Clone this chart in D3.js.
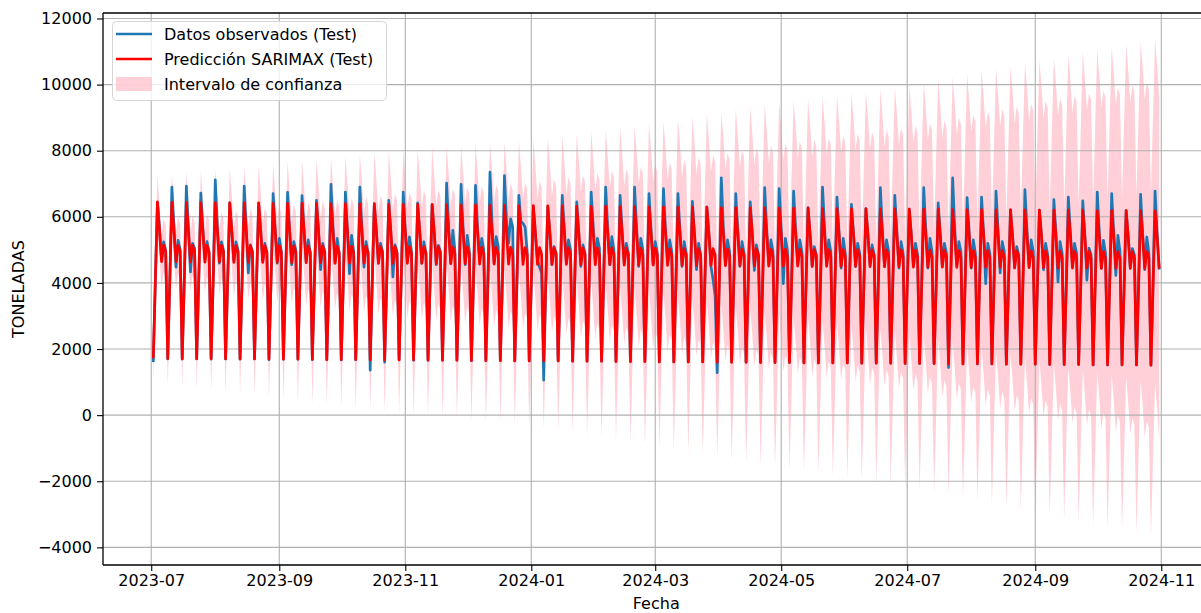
<!DOCTYPE html>
<html><head><meta charset="utf-8">
<script src="https://cdn.jsdelivr.net/npm/d3@7"></script>
<style>body{margin:0;background:#fff}svg{display:block;font-family:"DejaVu Sans",sans-serif}</style>
</head><body><svg id="c" width="1201" height="613"></svg>
<script>
// ---- data (daily, one row per week Sun..Sat, starting Sunday 2023-07-02) ----
const startDate = "2023-07-02";
const observedWeeks = [
[1610,4050,6430,5650,4700,5240,4980],[1700,4120,6900,5700,4480,5290,5000],[1690,4100,6930,5650,4330,5200,5050],
[1700,4080,6720,5600,4700,5250,4900],[1690,4090,7120,5750,4600,5240,4980],[1700,4050,6420,5550,4680,5240,5000],
[1690,4100,6930,5620,4300,5150,4950],[1700,4040,6400,5580,4650,5200,4900],[1680,4100,6700,5650,4600,5350,4950],
[1690,4080,6740,5600,4550,5250,5000],[1690,4060,6640,5600,4650,5300,4900],[1680,4040,6500,5580,4400,5200,4950],
[1680,4100,6980,5700,4600,5350,4900],[1670,4080,6750,5600,4280,5440,4950],[1680,4100,6900,5650,4480,5250,4900],
[1360,4000,6400,5550,4600,5200,4950],[1600,4050,6500,5550,4180,5150,4900],[1670,4080,6750,5600,4650,5390,4950],
[1660,4030,6420,5560,4600,5240,4900],[1660,4020,6380,5550,4550,5140,4950],[1660,4100,7020,5700,4600,5590,5000],
[1660,4090,6980,5650,4550,5440,4950],[1650,4080,6950,5650,4700,5350,5000],[1650,4150,7350,5800,4600,5400,5100],
[1650,4150,7250,5900,5200,5940,5700],[1640,3900,6650,5850,5800,5690,4950],[1640,3950,6300,5450,4700,4480,4300],
[1060,3900,6300,5500,4550,5100,4900],[1640,4000,6650,5600,4600,5300,5000],[1630,3980,6450,5520,4500,5150,4900],
[1630,4050,6750,5700,4650,5350,5050],[1630,4080,6900,5650,4550,5400,5000],[1620,4000,6650,5550,4600,5200,4900],
[1620,4080,6900,5650,4500,5350,5000],[1620,4000,6700,5600,4550,5250,4900],[1610,4050,6850,5600,4600,5300,4950],
[1610,4000,6700,5550,4500,5250,4900],[1610,3950,6470,5500,4400,5200,4850],[1610,3950,6300,5480,4500,4100,3600],
[1280,4000,7180,5650,4550,5300,4950],[1600,4000,6700,5550,4500,5250,4900],[1600,3950,6450,5500,4380,5150,4850],
[1590,4050,6880,5600,4550,5300,4950],[1590,4050,6850,5650,3980,5350,5000],[1590,4050,6780,5600,4550,5300,4950],
[1580,3920,6280,5450,4500,5100,4850],[1580,4050,6900,5650,4550,5300,4950],[1580,4000,6600,5550,4450,5350,4900],
[1580,3950,6380,5500,4500,5200,4900],[1570,3910,6250,5450,4550,5150,4850],[1570,4050,6880,5600,4500,5300,4950],
[1570,4000,6650,5550,4450,5250,4900],[1560,3900,6230,5450,4500,5200,4850],[1560,4050,6880,5600,4450,5350,4950],
[1560,3950,6420,5480,4500,5200,4900],[1440,4100,7180,5650,4550,5250,4950],[1550,3950,6580,5550,4450,5300,4900],
[1550,4000,6600,5500,3980,5200,4900],[1550,4000,6780,5600,4300,5250,4950],[1540,3880,6210,5420,4450,5100,4850],
[1540,4050,6820,5600,4500,5300,4950],[1540,3870,6200,5450,4400,5200,4850],[1530,3980,6520,5500,4030,5250,4900],
[1530,4000,6600,5550,4500,5200,4900],[1530,3950,6480,5450,4080,5050,4850],[1520,4000,6750,5550,4450,5290,4900],
[1520,4000,6700,5500,4230,5440,4950],[1520,3850,6190,5400,4450,5040,4850],[1520,3950,6680,5500,4400,5390,4900],
[1510,4000,6780,5500,4400]
];
const predictedWeeks = [
[1720,4080,6450,5600,4640,5150,4950],[1710,4070,6440,5590,4640,5140,4950],[1710,4070,6440,5590,4630,5140,4940],
[1710,4070,6430,5590,4630,5140,4940],[1710,4060,6430,5590,4630,5140,4940],[1700,4060,6420,5580,4620,5130,4930],
[1700,4060,6420,5580,4620,5130,4930],[1700,4050,6420,5580,4620,5130,4930],[1700,4050,6410,5580,4620,5130,4930],
[1690,4050,6410,5570,4610,5120,4920],[1690,4040,6410,5570,4610,5120,4920],[1690,4040,6400,5570,4610,5120,4920],
[1680,4040,6400,5560,4600,5110,4910],[1680,4030,6400,5560,4600,5110,4910],[1680,4030,6390,5560,4600,5110,4910],
[1670,4030,6390,5550,4590,5100,4900],[1670,4020,6380,5550,4590,5100,4900],[1670,4020,6380,5550,4590,5100,4900],
[1670,4020,6380,5550,4590,5100,4900],[1660,4010,6370,5540,4580,5090,4890],[1660,4010,6370,5540,4580,5090,4890],
[1660,4010,6360,5540,4580,5090,4890],[1650,4000,6360,5530,4570,5080,4880],[1650,4000,6350,5530,4570,5080,4880],
[1650,4000,6350,5530,4570,5080,4880],[1640,3990,6340,5520,4560,5070,4870],[1640,3990,6340,5520,4560,5070,4870],
[1640,3990,6330,5520,4560,5070,4870],[1640,3980,6330,5520,4560,5070,4870],[1630,3980,6320,5510,4550,5060,4860],
[1630,3980,6320,5510,4550,5060,4860],[1630,3970,6320,5510,4550,5060,4860],[1620,3970,6310,5500,4540,5050,4850],
[1620,3970,6310,5500,4540,5050,4850],[1620,3960,6300,5500,4540,5050,4850],[1610,3960,6300,5490,4530,5040,4840],
[1610,3960,6290,5490,4530,5040,4840],[1610,3950,6290,5490,4530,5040,4840],[1610,3950,6290,5490,4530,5040,4840],
[1600,3950,6280,5480,4520,5030,4830],[1600,3940,6280,5480,4520,5030,4830],[1600,3940,6270,5480,4520,5030,4830],
[1590,3940,6270,5470,4510,5020,4820],[1590,3930,6260,5470,4510,5020,4820],[1590,3930,6260,5470,4510,5020,4820],
[1580,3930,6260,5460,4500,5010,4810],[1580,3920,6250,5460,4500,5010,4810],[1580,3920,6250,5460,4500,5010,4810],
[1580,3920,6250,5460,4500,5010,4810],[1570,3910,6240,5450,4490,5000,4800],[1570,3910,6240,5450,4490,5000,4800],
[1570,3910,6240,5450,4490,5000,4800],[1560,3900,6230,5440,4480,4990,4790],[1560,3900,6230,5440,4480,4990,4790],
[1560,3900,6230,5440,4480,4990,4790],[1550,3890,6220,5430,4470,4980,4780],[1550,3890,6220,5430,4470,4980,4780],
[1550,3890,6220,5430,4470,4980,4780],[1550,3880,6210,5430,4470,4980,4780],[1540,3880,6210,5420,4460,4970,4770],
[1540,3880,6210,5420,4460,4970,4770],[1540,3870,6200,5420,4460,4970,4770],[1530,3870,6200,5410,4450,4960,4760],
[1530,3870,6200,5410,4450,4960,4760],[1530,3860,6200,5410,4450,4960,4760],[1520,3860,6190,5400,4440,4950,4750],
[1520,3860,6190,5400,4440,4950,4750],[1520,3850,6190,5400,4440,4950,4750],[1520,3850,6190,5400,4440,4950,4750],
[1510,3850,6180,5390,4430]
];
// confidence-interval half width per week
const ciHalfWidth = [
800,850,900,950,1000,1050,1100,1150,1200,1250,
1300,1350,1400,1450,1500,1550,1600,1650,1690,1730,
1770,1810,1850,1890,1930,1970,2010,2070,2130,2200,
2260,2330,2400,2460,2530,2600,2680,2750,2830,2900,
2980,3050,3130,3200,3260,3320,3380,3440,3500,3560,
3630,3690,3750,3840,3930,4010,4100,4190,4280,4360,
4450,4530,4620,4700,4780,4870,4950,5030,5120,5200
];
const yTicks = [-4000,-2000,0,2000,4000,6000,8000,10000,12000];
const xTickLabels = ["2023-07","2023-09","2023-11","2024-01","2024-03","2024-05","2024-07","2024-09","2024-11"];
const legendLabels = ["Datos observados (Test)","Predicción SARIMAX (Test)","Intervalo de confianza"];
const yLabel = "TONELADAS", xLabel = "Fecha";

// ---- build table ----
const parseDay = d3.utcParse("%Y-%m-%d");
const d0 = parseDay(startDate);
const rows = [];
observedWeeks.forEach((wk, k) => wk.forEach((v, j) => {
  const p = predictedWeeks[k][j], h = ciHalfWidth[k];
  rows.push({date: d3.utcDay.offset(d0, k*7+j), obs: v, pred: p, lo: p - h, hi: p + h});
}));

const svg = d3.select("#c");
const L = 103, R = 1209.5, T = 13, B = 565;
const first = rows[0].date, last = rows[rows.length-1].date;
const span = last - first, pad = span*0.05;
const x = d3.scaleUtc().domain([new Date(+first - pad), new Date(+last + pad)]).range([L, R]);
const y = d3.scaleLinear().domain([-4534, 12166]).range([B, T]);
const pink = "#ffc0cb", pinkOpacity = 0.75;

// band
svg.append("path").datum(rows)
  .attr("d", d3.area().x(d => x(d.date)).y0(d => y(d.lo)).y1(d => y(d.hi)))
  .attr("fill", pink).attr("fill-opacity", pinkOpacity);

// grid
const xt = xTickLabels.map(s => d3.utcParse("%Y-%m")(s));
const g = svg.append("g").attr("stroke", "#b0b0b0").attr("stroke-width", 1.1);
xt.forEach(t => g.append("line").attr("x1", x(t)).attr("x2", x(t)).attr("y1", T).attr("y2", B));
yTicks.forEach(t => g.append("line").attr("x1", L).attr("x2", R).attr("y1", y(t)).attr("y2", y(t)));

// lines
svg.append("path").datum(rows)
  .attr("d", d3.line().x(d => x(d.date)).y(d => y(d.obs)))
  .attr("fill", "none").attr("stroke", "#1f77b4").attr("stroke-width", 2.7).attr("stroke-linejoin", "round");
svg.append("path").datum(rows)
  .attr("d", d3.line().x(d => x(d.date)).y(d => y(d.pred)))
  .attr("fill", "none").attr("stroke", "#ff0000").attr("stroke-width", 2.7).attr("stroke-linejoin", "round");

// axes
const ax = svg.append("g").attr("transform", `translate(0,${B})`)
  .call(d3.axisBottom(x).tickValues(xt).tickFormat(d3.utcFormat("%Y-%m")).tickSize(6).tickPadding(4));
const ay = svg.append("g").attr("transform", `translate(${L},0)`)
  .call(d3.axisLeft(y).tickValues(yTicks).tickFormat(d3.format("d")).tickSize(6).tickPadding(5));
[ax, ay].forEach(a => {
  a.select(".domain").remove();
  a.selectAll("line").attr("stroke", "#000").attr("stroke-width", 1.1);
  a.selectAll("text").attr("font-size", 16).attr("fill", "#000").attr("font-family", "DejaVu Sans");
});
ay.selectAll("text").text(d => d < 0 ? "\u2212" + Math.abs(d) : String(d));

// spines
const sp = svg.append("g").attr("stroke", "#000").attr("stroke-width", 1.3);
sp.append("line").attr("x1", L).attr("x2", L).attr("y1", T).attr("y2", B);
sp.append("line").attr("x1", L).attr("x2", 1201).attr("y1", B).attr("y2", B);
sp.append("line").attr("x1", L).attr("x2", 1201).attr("y1", T).attr("y2", T);

// labels
svg.append("text").attr("x", (L + R)/2).attr("y", 609).attr("text-anchor", "middle")
  .attr("font-size", 16).text(xLabel);
svg.append("text").attr("transform", `translate(24,${(T+B)/2}) rotate(-90)`).attr("text-anchor", "middle")
  .attr("font-size", 16).text(yLabel);

// legend
const lg = svg.append("g");
lg.append("rect").attr("x", 112.5).attr("y", 21.5).attr("width", 274).attr("height", 79).attr("rx", 4)
  .attr("fill", "#fff").attr("fill-opacity", 0.8).attr("stroke", "#d6d6d6").attr("stroke-width", 1);
const ly = [34, 59, 84];
lg.append("line").attr("x1", 116).attr("x2", 152).attr("y1", ly[0]).attr("y2", ly[0]).attr("stroke", "#1f77b4").attr("stroke-width", 2.7);
lg.append("line").attr("x1", 116).attr("x2", 152).attr("y1", ly[1]).attr("y2", ly[1]).attr("stroke", "#ff0000").attr("stroke-width", 2.7);
lg.append("rect").attr("x", 116).attr("y", ly[2]-7).attr("width", 36).attr("height", 14).attr("fill", pink).attr("fill-opacity", pinkOpacity);
legendLabels.forEach((t, i) => lg.append("text").attr("x", 164).attr("y", ly[i]).attr("dy", "0.36em")
  .attr("font-size", 16).text(t));
</script></body></html>
